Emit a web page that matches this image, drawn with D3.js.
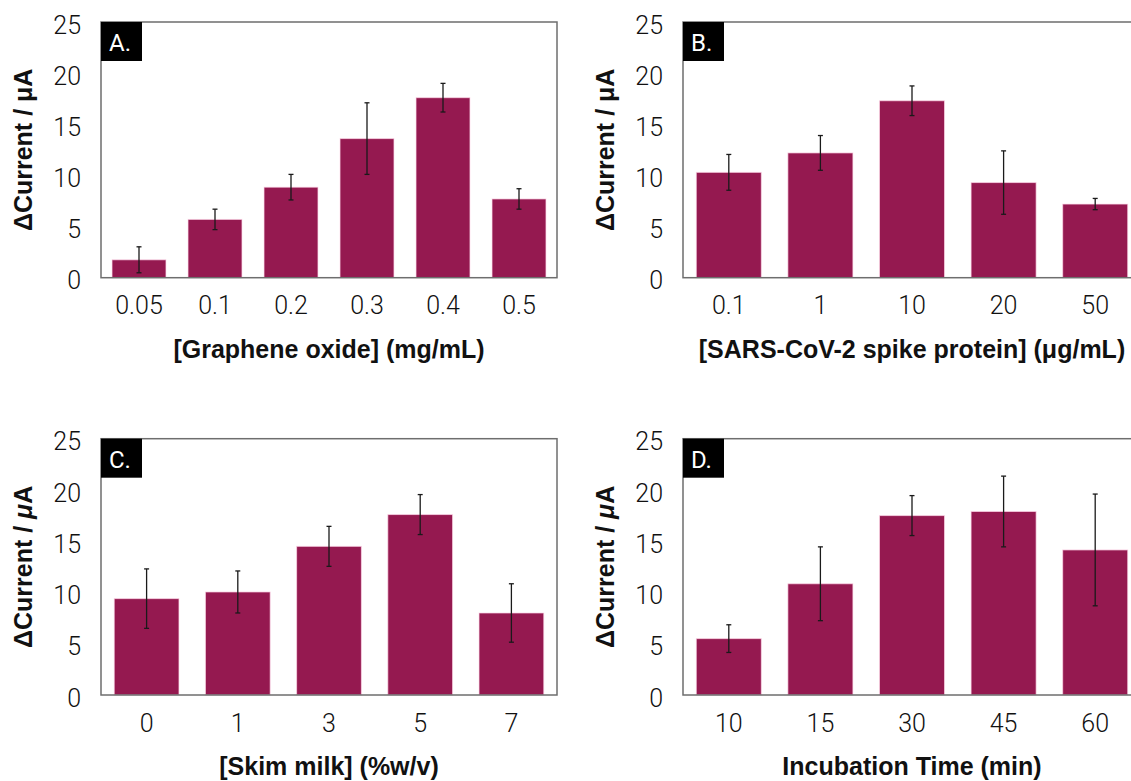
<!DOCTYPE html>
<html>
<head>
<meta charset="utf-8">
<script src="https://cdn.jsdelivr.net/npm/d3@7"></script>
<style>
  body { margin: 0; background: #fff; }
  .tick text { font-family: Roboto, "Liberation Sans", sans-serif; font-weight: 300; font-size: 25px; fill: #111; }
  .title { font-family: "Liberation Sans", Arial, sans-serif; font-weight: bold; font-size: 25px; fill: #111; }
</style>
</head>
<body>
<div class="figure"></div>
<script>
// values (mean and error bar half-length)
const goConc = ['0.05', '0.1', '0.2', '0.3', '0.4', '0.5'];
const goMean = [1.75, 5.7, 8.85, 13.6, 17.6, 7.7];
const goErr = [1.27, 1.0, 1.25, 3.5, 1.4, 1.0];

const spikeConc = ['0.1', '1', '10', '20', '50'];
const spikeMean = [10.3, 12.2, 17.3, 9.3, 7.2];
const spikeErr = [1.75, 1.7, 1.45, 3.1, 0.55];

const milkConc = ['0', '1', '3', '5', '7'];
const milkMean = [9.4, 10.05, 14.5, 17.6, 8.0];
const milkErr = [2.9, 2.05, 1.95, 1.95, 2.85];

const incTime = ['10', '15', '30', '45', '60'];
const incMean = [5.5, 10.85, 17.5, 17.9, 14.15];
const incErr = [1.35, 3.6, 1.95, 3.45, 5.45];

const yTicks = [0, 5, 10, 15, 20, 25];

const barColor = '#951950';

const svg = d3.select('.figure')
  .append('svg')
  .attr('width', 1131)
  .attr('height', 781);

// one panel of the figure
function drawPanel(opts) {
  const { left, top, width, height, cats, means, errs, letter, xTitle, italicMu } = opts;
  const data = cats.map((c, i) => ({ cat: c, mean: means[i], err: errs[i] }));

  const g = svg.append('g')
    .attr('transform', `translate(${left}, ${top})`);

  const xScale = d3.scaleBand()
    .domain(cats)
    .range([0, width])
    .paddingInner(0.29)
    .paddingOuter(0.145);

  const yScale = d3.scaleLinear()
    .domain([0, 25])
    .range([height, 0]);

  // bars
  g.selectAll('.bar')
    .data(data)
    .join('rect')
    .attr('class', 'bar')
    .attr('x', d => xScale(d.cat))
    .attr('width', xScale.bandwidth())
    .attr('y', d => yScale(d.mean))
    .attr('height', d => height - yScale(d.mean))
    .style('fill', barColor)
    .style('stroke', 'rgba(255,220,235,0.7)')
    .style('stroke-width', 1);

  // error bars
  const eb = g.selectAll('.err')
    .data(data)
    .join('g')
    .attr('class', 'err')
    .attr('transform', d => `translate(${xScale(d.cat) + xScale.bandwidth() / 2}, 0)`)
    .style('stroke', '#1a1a1a')
    .style('stroke-width', 1.3);

  eb.append('line')
    .attr('y1', d => yScale(d.mean + d.err))
    .attr('y2', d => yScale(d.mean - d.err));
  eb.append('line')
    .attr('x1', -2.5).attr('x2', 2.5)
    .attr('y1', d => yScale(d.mean + d.err))
    .attr('y2', d => yScale(d.mean + d.err));
  eb.append('line')
    .attr('x1', -2.5).attr('x2', 2.5)
    .attr('y1', d => yScale(d.mean - d.err))
    .attr('y2', d => yScale(d.mean - d.err));

  // frame
  g.append('rect')
    .attr('width', width)
    .attr('height', height)
    .style('fill', 'none')
    .style('stroke', '#6e6e6e')
    .style('stroke-width', 1.5);

  // axes, no tick marks
  const yAxis = g.append('g')
    .call(d3.axisLeft(yScale).tickValues(yTicks).tickSize(0).tickPadding(20));
  yAxis.select('.domain').remove();
  yAxis.selectAll('text').attr('dy', '0.45em');

  const xAxis = g.append('g')
    .attr('transform', `translate(0, ${height})`)
    .call(d3.axisBottom(xScale).tickSize(0).tickPadding(19));
  xAxis.select('.domain').remove();

  // panel letter
  g.append('rect')
    .attr('width', 41)
    .attr('height', 39)
    .style('fill', '#000');
  g.append('text')
    .attr('x', 8)
    .attr('y', 29)
    .style('font-family', 'Roboto, "Liberation Sans", sans-serif')
    .style('font-size', '24px')
    .style('fill', '#fff')
    .text(letter);

  // axis titles
  const yt = g.append('text')
    .attr('class', 'title')
    .attr('text-anchor', 'middle')
    .attr('transform', `translate(-69, ${height / 2}) rotate(-90)`);
  yt.append('tspan').text('ΔCurrent / ');
  yt.append('tspan').style('font-style', italicMu ? 'italic' : 'normal').text('μ');
  yt.append('tspan').text('A');

  g.append('text')
    .attr('class', 'title')
    .attr('text-anchor', 'middle')
    .attr('x', width / 2)
    .attr('y', height + 80)
    .text(xTitle);
}

drawPanel({ left: 101, top: 22, width: 456, height: 255.7, cats: goConc, means: goMean, errs: goErr,
  letter: 'A.', xTitle: '[Graphene oxide] (mg/mL)', italicMu: false });
drawPanel({ left: 683, top: 22, width: 458, height: 255.7, cats: spikeConc, means: spikeMean, errs: spikeErr,
  letter: 'B.', xTitle: '[SARS-CoV-2 spike protein] (μg/mL)', italicMu: false });
drawPanel({ left: 101, top: 438.7, width: 456, height: 256.3, cats: milkConc, means: milkMean, errs: milkErr,
  letter: 'C.', xTitle: '[Skim milk] (%w/v)', italicMu: true });
drawPanel({ left: 683, top: 438.7, width: 458, height: 256.3, cats: incTime, means: incMean, errs: incErr,
  letter: 'D.', xTitle: 'Incubation Time (min)', italicMu: true });
</script>
</body>
</html>
